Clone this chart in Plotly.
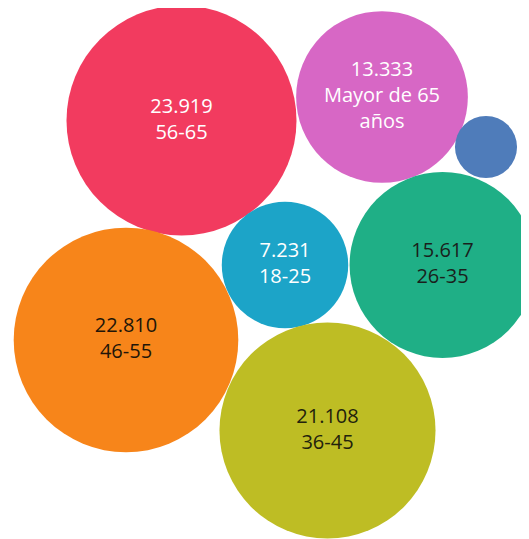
import math
import plotly.graph_objects as go

# Datos: personas por rango de edad
categorias = ['56-65', 'Mayor de 65 años', 'Menor de 18', '26-35', '18-25', '46-55', '36-45']
valores = [23919, 13333, 1740, 15617, 7231, 22810, 21108]
etiquetas = ['23.919<br>56-65', '13.333<br>Mayor de 65<br>años', '', '15.617<br>26-35',
             '7.231<br>18-25', '22.810<br>46-55', '21.108<br>36-45']

# Layout del empaquetado (centros en px) y estilos
centros_x = [181.5, 382, 486, 442.5, 285, 126, 327.5]
centros_y = [120.5, 97, 147, 265, 265, 340, 430.5]
colores = ['#F23B5F', '#D767C5', '#4F7CBA', '#1FAF86', '#1CA4C8', '#F7851A', '#BEBD24']
colores_texto = ['#FFFFFF', '#FFFFFF', '#FFFFFF', '#1A1F1C', '#FFFFFF', '#221508', '#22220C']

escala = 115 / math.sqrt(max(valores))  # radio px por sqrt(valor)
diametros = [2 * escala * math.sqrt(v) for v in valores]

W, H = 529, 539
OFF = 8  # margen por defecto del body de la página

fig = go.Figure(go.Scatter(
    x=centros_x,
    y=centros_y,
    mode='markers+text',
    text=etiquetas,
    textposition='middle center',
    textfont=dict(family='Open Sans', size=20, color=colores_texto),
    customdata=categorias,
    marker=dict(size=diametros, sizemode='diameter', color=colores,
                line=dict(width=0), opacity=1),
    hovertemplate='%{customdata}<extra></extra>',
    cliponaxis=False,
))

fig.update_layout(
    width=W - OFF,
    height=H - OFF,
    margin=dict(t=0, b=0, l=0, r=0),
    paper_bgcolor='white',
    plot_bgcolor='white',
    showlegend=False,
    xaxis=dict(range=[OFF, W], visible=False, fixedrange=True),
    yaxis=dict(range=[H, OFF], visible=False, fixedrange=True),
)

fig.write_html("out.html")
